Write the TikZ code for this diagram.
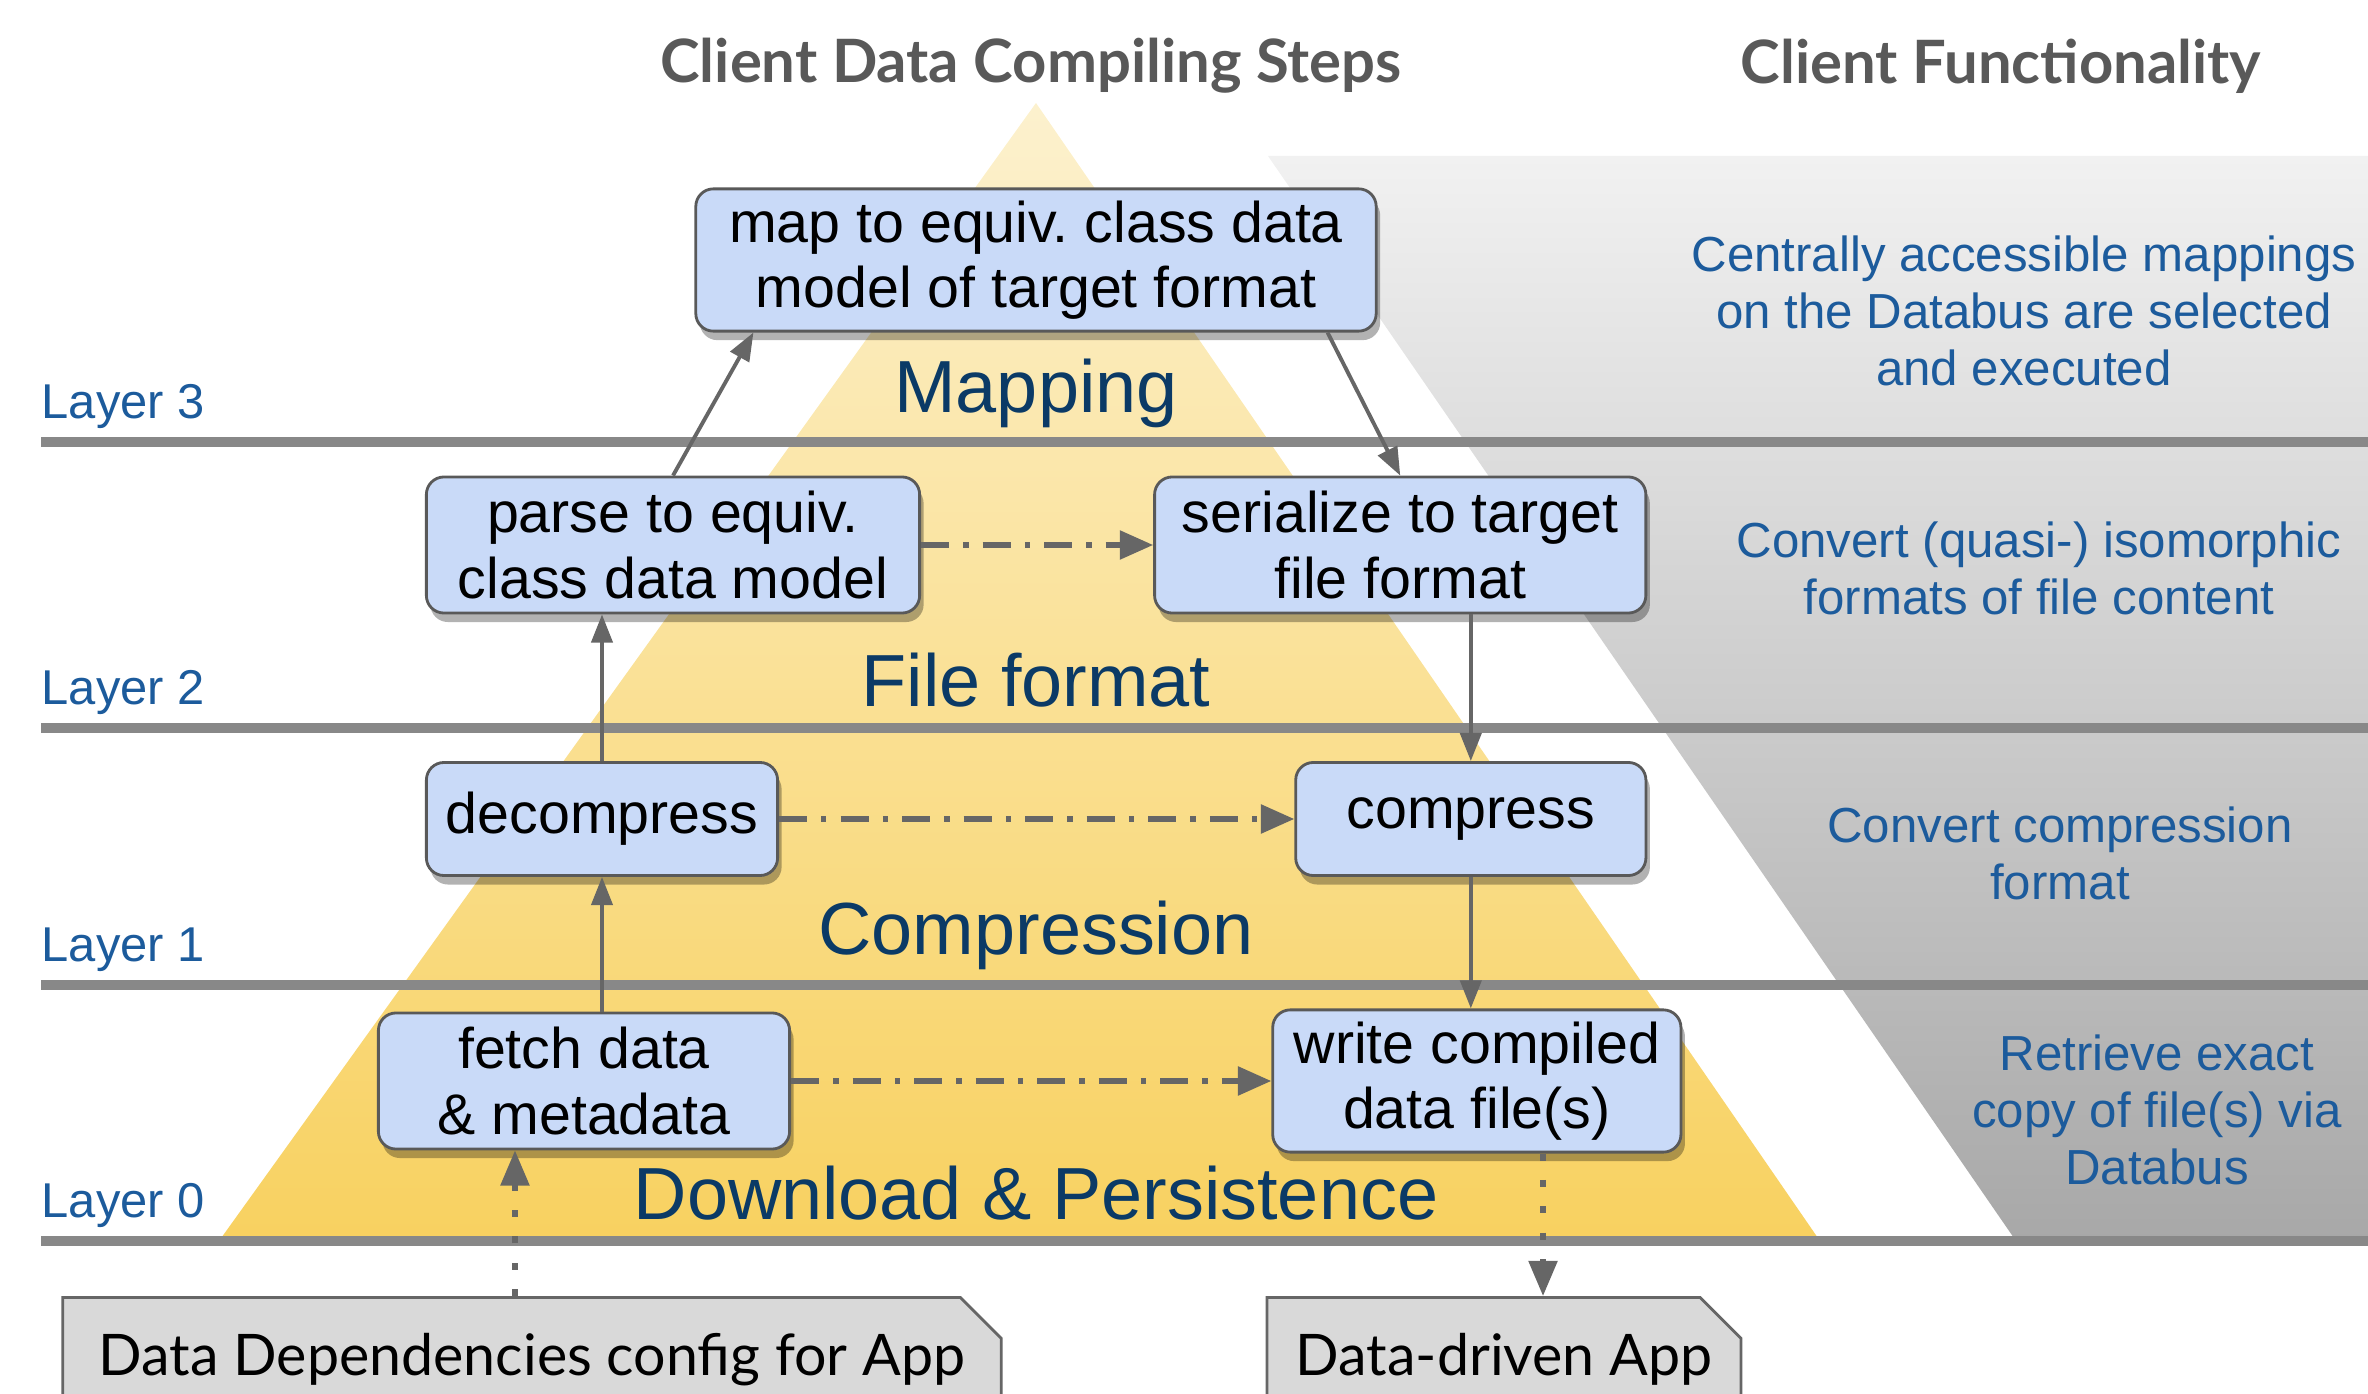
\documentclass[tikz,border=0pt]{standalone}
\usepackage{fontspec}
\setmainfont{Liberation Sans}
\newfontfamily\headfont{Lato}
\usetikzlibrary{positioning,arrows.meta,calc,shapes.misc,shadows}
\definecolor{stepC}{HTML}{C9DAF8}
\definecolor{edgeC}{HTML}{595959}
\definecolor{arrowC}{HTML}{666666}
\definecolor{lineC}{HTML}{888888}
\definecolor{pyrTopC}{HTML}{FCF1CE}
\definecolor{pyrBotC}{HTML}{F8D160}
\definecolor{funcTopC}{HTML}{F1F1F1}
\definecolor{funcBotC}{HTML}{A8A8A8}
\definecolor{nameC}{HTML}{0B3A66}
\definecolor{descC}{HTML}{1C5B9C}
\definecolor{headC}{HTML}{595959}
\definecolor{appC}{HTML}{D9D9D9}
\frenchspacing

\begin{document}
\begin{tikzpicture}[
  x=0.01cm, y=-0.01cm,
  every node/.style={text=black},
  stepbox/.style={draw=edgeC, line width=0.8pt, fill=stepC, rounded corners=5pt,
                  minimum width=#1, minimum height=1.36cm, align=center,
                  font=\fontsize{16.3}{18.6}\selectfont,
                  drop shadow={shadow xshift=0.4mm, shadow yshift=-0.9mm,
                               opacity=0.3, fill=black}},
  appbox/.style={chamfered rectangle, chamfered rectangle corners=north east,
                 chamfered rectangle xsep=0.17cm, chamfered rectangle ysep=0.24cm,
                 draw=arrowC, line width=0.8pt, fill=appC, anchor=north,
                 minimum width=#1, minimum height=1.14cm,
                 font=\headfont\fontsize{16.3}{19}\selectfont},
  layername/.style={text=nameC, font=\fontsize{21}{24}\selectfont},
  layerlbl/.style={text=descC, anchor=west, inner sep=0pt,
                   font=\fontsize{13.9}{16}\selectfont},
  desc/.style={text=descC, align=center, font=\fontsize{14}{16.2}\selectfont},
  head/.style={text=headC, font=\headfont\bfseries\fontsize{17}{20}\selectfont},
  layerline/.style={lineC, line width=2.8pt},
  flow/.style={-{Triangle[length=8pt,width=6pt]}, arrowC, line width=1.1pt},
  sameflow/.style={-{Triangle[length=9.5pt,width=8pt]}, arrowC, line width=1.5pt,
                   dash pattern=on 8pt off 4pt on 1.5pt off 4pt},
  appflow/.style={-{Triangle[length=10pt,width=8pt]}, arrowC, line width=1.5pt,
                  dash pattern=on 2pt off 5.5pt},
]
\useasboundingbox (0,0) rectangle (2368,1394);

% ── Background: pyramid and functionality band ──
\shade[top color=funcTopC, bottom color=funcBotC]
  (1268,156) -- (2368,156) -- (2368,1241) -- (2016,1241) -- cycle;
\shade[top color=pyrTopC, bottom color=pyrBotC]
  (1036,103) -- (1820,1241) -- (219,1241) -- cycle;

% ── Column headings ──
\node[head] (hsteps) at (1031,66) {Client Data Compiling Steps};
\node[head] (hfunc) at (2001,66) {Client Functionality};

% ── Layer separators ──
\foreach \y/\n in {442/3,728/2,985/1,1241/0} {
  \draw[layerline] (41,\y) -- (2368,\y);
  \node[layerlbl] (lay\n) at (41,\y-35) {Layer \n};
}

% ── Layer names ──
\node[layername] (nmap) at (1036,393) {Mapping};
\node[layername] (nfile) at (1036,680) {File format};
\node[layername] (ncomp) at (1036,935) {Compression};
\node[layername] (nload) at (1036,1193) {Download \& Persistence};

% ── Functionality per layer ──
\node[desc] (fmap) at (2024,311)
  {Centrally accessible mappings\\on the Databus are selected\\and executed};
\node[desc] (ffile) at (2039,568)
  {Convert (quasi-) isomorphic\\formats of file content};
\node[desc] (fcomp) at (2060,853) {Convert compression\\format};
\node[desc] (fload) at (2157,1110) {Retrieve exact\\copy of file(s) via\\Databus};

% ── Compiling steps ──
\node[stepbox=6.8cm] (map) at (1036,260) {map to equiv. class data\\model of target format};
\node[stepbox=4.93cm] (parse) at (673,545) {parse to equiv.\\class data model};
\node[stepbox=4.91cm, right=2.32cm of parse] (serial) {serialize to target\\file format};
\node[stepbox=3.51cm, minimum height=1.13cm] (decomp) at (602,819) {decompress};
\node[stepbox=3.50cm, minimum height=1.13cm, right=5.15cm of decomp] (comp) {compress};
\node[stepbox=4.11cm] (fetch) at (584,1081) {fetch data\\\& metadata};
\node[stepbox=4.08cm, right=4.8cm of fetch] (write) {write compiled\\data file(s)};

% ── App side ──
\node[appbox=9.38cm] (deps) at (532,1296) {Data Dependencies config for App};
\node[appbox=4.68cm] (app) at (1504,1296) {Data-driven App};

% ── Up and down through the layers ──
\draw[flow] (parse.north) -- ([xshift=5.9mm]map.south west);
\draw[flow] ([xshift=-5mm]map.south east) -- (serial.north);
\draw[flow] (decomp.north) -- (decomp.north |- parse.south);
\draw[flow] (comp.north |- serial.south) -- (comp.north);
\draw[flow] (decomp.south |- fetch.north) -- (decomp.south);
\draw[flow] (comp.south) -- (comp.south |- write.north);

% ── Across within a layer ──
\draw[sameflow] (parse) -- (serial);
\draw[sameflow] (decomp) -- (comp);
\draw[sameflow] (fetch) -- (write);

% ── In from / out to the app ──
\draw[appflow] ([xshift=-1.7mm]deps.north) -- ([xshift=-1.7mm]deps.north |- fetch.south);
\draw[appflow] ([xshift=3.9mm]app.north |- write.south) -- ([xshift=3.9mm]app.north);

\end{tikzpicture}
\end{document}
